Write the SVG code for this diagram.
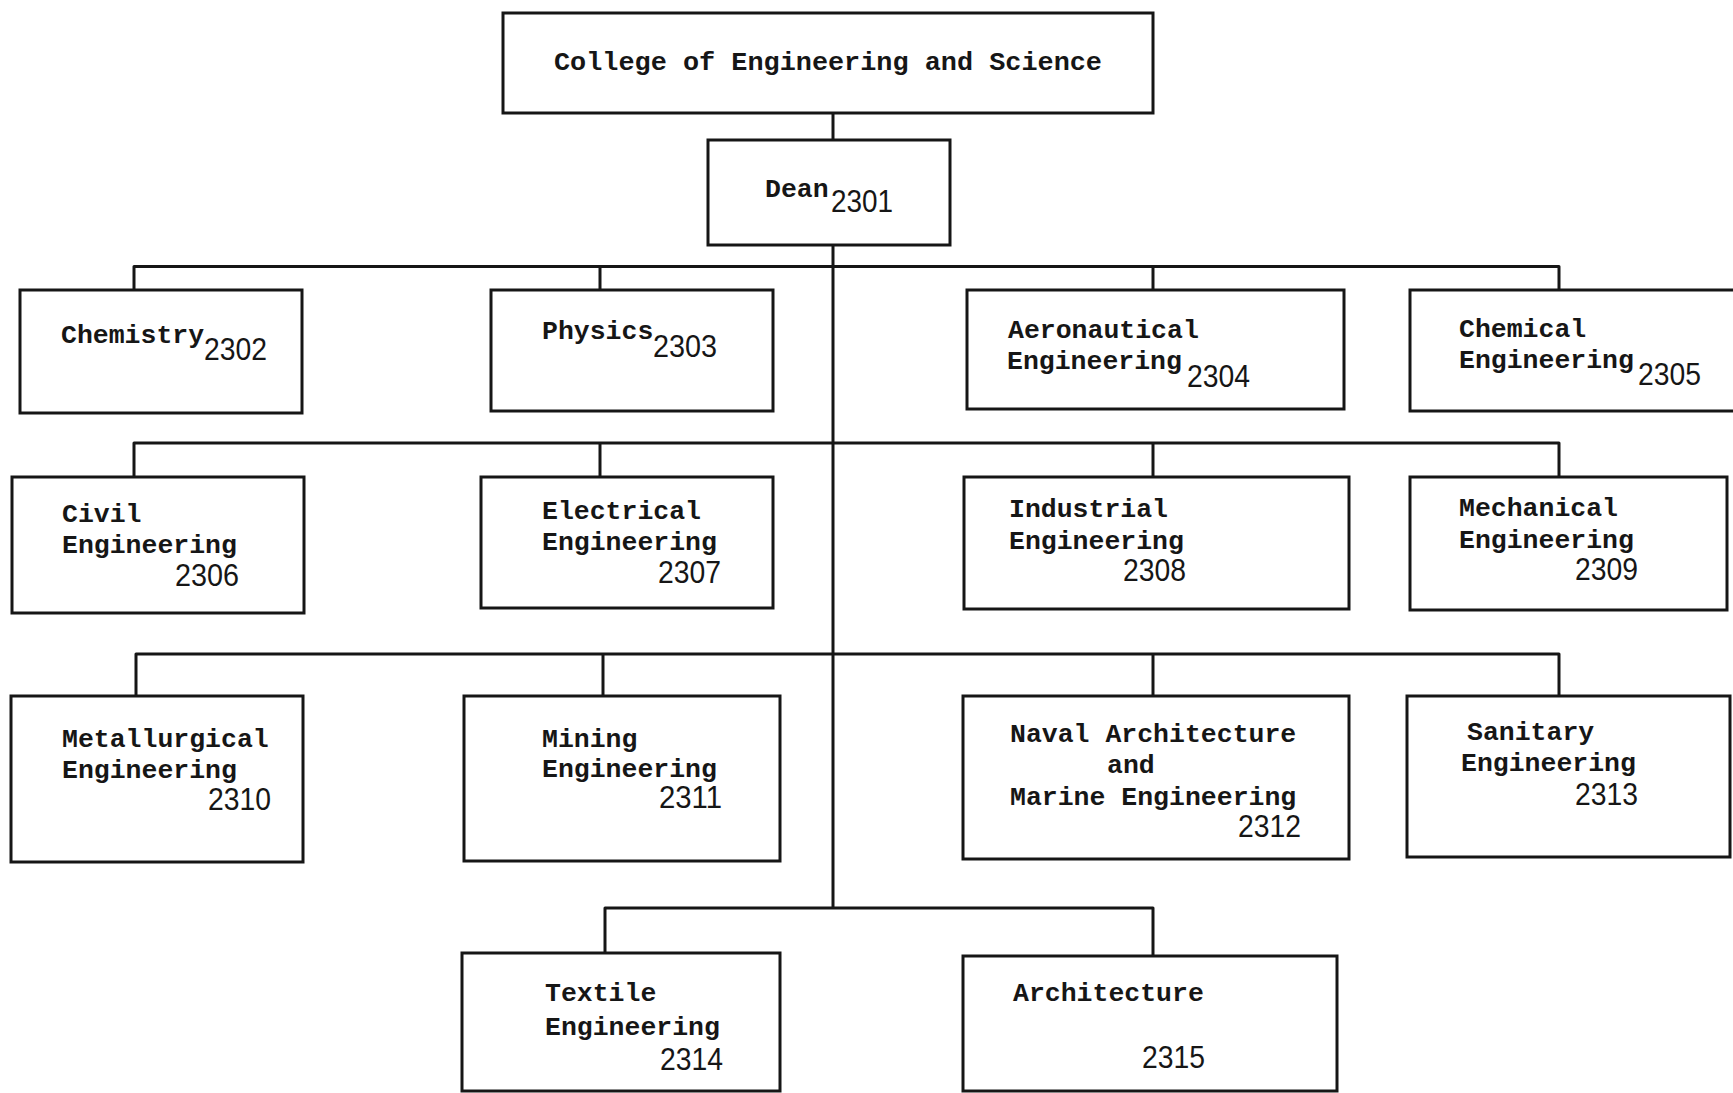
<svg xmlns="http://www.w3.org/2000/svg" width="1733" height="1093" viewBox="0 0 1733 1093">
<style>
.box{fill:none;stroke:#161616;stroke-width:3}
.con{fill:none;stroke:#161616;stroke-width:3;stroke-linejoin:round}
.lbl{font-family:"Liberation Mono","Courier New",monospace;font-weight:bold;font-size:26.5px;fill:#161616}
.num{font-family:"Liberation Sans",Arial,sans-serif;font-size:32px;fill:#161616}
</style>
<rect width="1733" height="1093" fill="#ffffff"/>
<g id="connectors">
<path class="con" d="M833,113 V140"/>
<path class="con" d="M833,245 V908"/>
<path class="con" d="M134,290 V266.5 H1559 V290"/>
<path class="con" d="M600,266.5 V290"/>
<path class="con" d="M1153,266.5 V290"/>
<path class="con" d="M134,477 V443 H1559 V477"/>
<path class="con" d="M600,443 V477"/>
<path class="con" d="M1153,443 V477"/>
<path class="con" d="M136,696 V654 H1559 V696"/>
<path class="con" d="M603,654 V696"/>
<path class="con" d="M1153,654 V696"/>
<path class="con" d="M605,953 V908 H1153 V956"/>
</g>
<g id="college">
<rect class="box" x="503" y="13" width="650" height="100"/>
<text class="lbl" x="554" y="70" textLength="548" lengthAdjust="spacingAndGlyphs">College of Engineering and Science</text>
</g>
<g id="dean">
<rect class="box" x="708" y="140" width="242" height="105"/>
<text class="lbl" x="765" y="197">Dean</text>
<text class="num" x="831" y="212" textLength="62" lengthAdjust="spacingAndGlyphs">2301</text>
</g>
<g id="n2302">
<rect class="box" x="20" y="290" width="282" height="123"/>
<text class="lbl" x="61" y="343">Chemistry</text>
<text class="num" x="204" y="360" textLength="63" lengthAdjust="spacingAndGlyphs">2302</text>
</g>
<g id="n2303">
<rect class="box" x="491" y="290" width="282" height="121"/>
<text class="lbl" x="542" y="339">Physics</text>
<text class="num" x="653" y="357" textLength="64" lengthAdjust="spacingAndGlyphs">2303</text>
</g>
<g id="n2304">
<rect class="box" x="967" y="290" width="377" height="119"/>
<text class="lbl" x="1008" y="338">Aeronautical</text>
<text class="lbl" x="1007" y="369">Engineering</text>
<text class="num" x="1187" y="387" textLength="63" lengthAdjust="spacingAndGlyphs">2304</text>
</g>
<g id="n2305">
<rect class="box" x="1410" y="290" width="340" height="121"/>
<text class="lbl" x="1459" y="337">Chemical</text>
<text class="lbl" x="1459" y="368">Engineering</text>
<text class="num" x="1638" y="385" textLength="63" lengthAdjust="spacingAndGlyphs">2305</text>
</g>
<g id="n2306">
<rect class="box" x="12" y="477" width="292" height="136"/>
<text class="lbl" x="62" y="522">Civil</text>
<text class="lbl" x="62" y="553">Engineering</text>
<text class="num" x="175" y="586" textLength="64" lengthAdjust="spacingAndGlyphs">2306</text>
</g>
<g id="n2307">
<rect class="box" x="481" y="477" width="292" height="131"/>
<text class="lbl" x="542" y="519">Electrical</text>
<text class="lbl" x="542" y="550">Engineering</text>
<text class="num" x="658" y="583" textLength="63" lengthAdjust="spacingAndGlyphs">2307</text>
</g>
<g id="n2308">
<rect class="box" x="964" y="477" width="385" height="132"/>
<text class="lbl" x="1009" y="517">Industrial</text>
<text class="lbl" x="1009" y="549">Engineering</text>
<text class="num" x="1123" y="581" textLength="63" lengthAdjust="spacingAndGlyphs">2308</text>
</g>
<g id="n2309">
<rect class="box" x="1410" y="477" width="317" height="133"/>
<text class="lbl" x="1459" y="516">Mechanical</text>
<text class="lbl" x="1459" y="548">Engineering</text>
<text class="num" x="1575" y="580" textLength="63" lengthAdjust="spacingAndGlyphs">2309</text>
</g>
<g id="n2310">
<rect class="box" x="11" y="696" width="292" height="166"/>
<text class="lbl" x="62" y="747">Metallurgical</text>
<text class="lbl" x="62" y="778">Engineering</text>
<text class="num" x="208" y="810" textLength="63" lengthAdjust="spacingAndGlyphs">2310</text>
</g>
<g id="n2311">
<rect class="box" x="464" y="696" width="316" height="165"/>
<text class="lbl" x="542" y="747">Mining</text>
<text class="lbl" x="542" y="777">Engineering</text>
<text class="num" x="659" y="808" textLength="63" lengthAdjust="spacingAndGlyphs">2311</text>
</g>
<g id="n2312">
<rect class="box" x="963" y="696" width="386" height="163"/>
<text class="lbl" x="1010" y="742">Naval Architecture</text>
<text class="lbl" x="1107" y="773">and</text>
<text class="lbl" x="1010" y="805">Marine Engineering</text>
<text class="num" x="1238" y="837" textLength="63" lengthAdjust="spacingAndGlyphs">2312</text>
</g>
<g id="n2313">
<rect class="box" x="1407" y="696" width="323" height="161"/>
<text class="lbl" x="1467" y="740">Sanitary</text>
<text class="lbl" x="1461" y="771">Engineering</text>
<text class="num" x="1575" y="805" textLength="63" lengthAdjust="spacingAndGlyphs">2313</text>
</g>
<g id="n2314">
<rect class="box" x="462" y="953" width="318" height="138"/>
<text class="lbl" x="545" y="1001">Textile</text>
<text class="lbl" x="545" y="1035">Engineering</text>
<text class="num" x="660" y="1070" textLength="63" lengthAdjust="spacingAndGlyphs">2314</text>
</g>
<g id="n2315">
<rect class="box" x="963" y="956" width="374" height="135"/>
<text class="lbl" x="1013" y="1001">Architecture</text>
<text class="num" x="1142" y="1068" textLength="63" lengthAdjust="spacingAndGlyphs">2315</text>
</g>
</svg>
